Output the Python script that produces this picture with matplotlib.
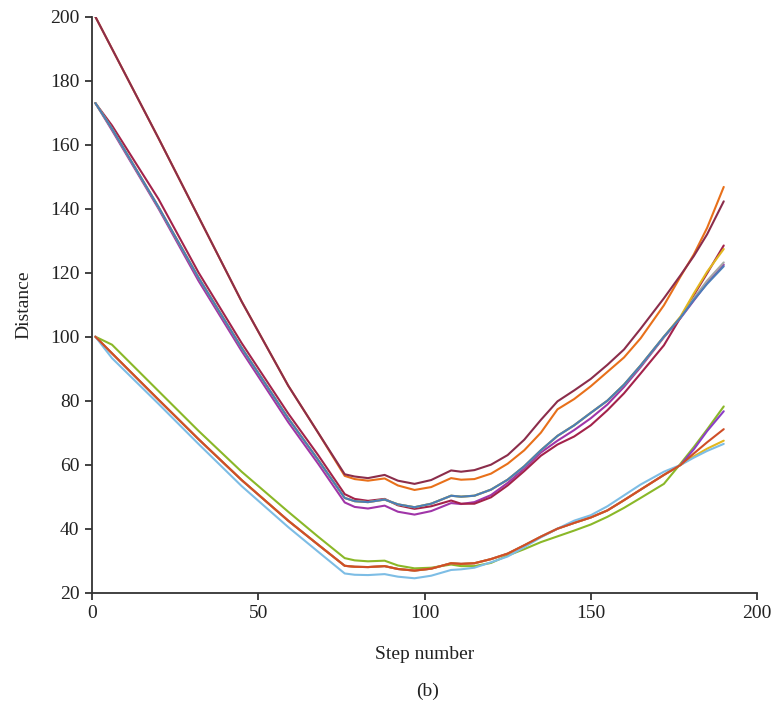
import matplotlib
matplotlib.use("Agg")
import matplotlib.pyplot as plt

# ---- data ----
steps = [1, 6, 20, 32, 45, 59, 68, 76, 79, 83, 88, 92, 97, 102, 108, 111, 115, 120, 125,
         130, 135, 140, 145, 150, 155, 160, 165, 172, 177, 181, 185, 190]

# group starting at 200
orange = [200, 190, 162, 137.5, 111, 84.7, 70, 56.5, 55.5, 55.0, 55.7, 53.5, 52.1, 53.0, 55.8, 55.3,
          55.5, 57.2, 60.3, 64.5, 70.0, 77.3, 80.5, 84.5, 89.0, 93.5, 99.5, 109.8, 118.8, 125.7, 134.0, 146.8]
maroon = [200, 190, 162, 137.5, 111, 84.7, 70, 57.0, 56.3, 55.8, 56.8, 55.0, 54.0, 55.2, 58.2, 57.8,
          58.3, 60.0, 63.0, 67.8, 74.0, 79.8, 83.2, 86.8, 91.2, 96.0, 102.5, 112.0, 119.2, 125.2, 132.0, 142.3]

# group starting at 173
crimson = [173, 166, 143, 120.1, 98, 76, 63, 50.8, 49.3, 48.7, 49.3, 47.3, 46.2, 47.0, 48.8, 47.8,
           47.8, 49.8, 53.5, 58.0, 62.8, 66.3, 68.8, 72.3, 77.0, 82.3, 88.5, 97.3, 106.0, 113.0, 119.8, 128.5]
magenta = [173, 164.5, 140, 117.5, 95.5, 73.3, 60.3, 48.2, 46.8, 46.3, 47.2, 45.3, 44.4, 45.5, 48.0, 47.7,
           48.3, 50.5, 54.3, 58.8, 63.8, 67.5, 70.8, 74.5, 78.8, 84.3, 90.5, 99.8, 105.8, 111.3, 116.8, 122.5]
gray_m = [173, 165, 140.5, 118.5, 96.5, 74.5, 61.5, 49.6, 48.6, 48.3, 49.1, 47.6, 46.7, 47.8, 50.3, 50.0,
          50.3, 52.2, 55.3, 59.5, 64.5, 69.0, 72.3, 76.2, 80.0, 85.0, 91.0, 100.0, 106.0, 112.0, 117.5, 123.2]
yellow_m = [173, 165, 140.5, 118.5, 96.5, 74.5, 61.5, 49.6, 48.6, 48.3, 49.1, 47.6, 46.7, 47.8, 50.3, 50.0,
            50.3, 52.2, 55.3, 59.5, 64.5, 69.0, 72.3, 76.2, 80.0, 85.0, 91.0, 100.0, 106.3, 113.5, 120.3, 127.4]
blue = [173, 165, 140.5, 118.5, 96.5, 74.5, 61.5, 49.6, 48.6, 48.3, 49.1, 47.6, 46.7, 47.8, 50.3, 50.0,
        50.3, 52.2, 55.3, 59.5, 64.5, 69.0, 72.3, 76.2, 80.0, 85.0, 91.0, 100.0, 106.0, 111.5, 116.5, 122.0]

# group starting at 100
green = [100, 97.5, 83, 70.6, 57.8, 45.3, 37.5, 30.8, 30.1, 29.8, 30.0, 28.5, 27.6, 27.8, 28.8, 28.3,
         28.3, 29.3, 31.6, 33.6, 35.8, 37.6, 39.4, 41.3, 43.7, 46.5, 49.6, 54.0, 60.3, 65.5, 71.0, 78.2]
purple_b = [100, 94.8, 80.3, 68.0, 55.2, 42.5, 35.0, 28.4, 28.1, 28.0, 28.3, 27.4, 26.9, 27.5, 29.2, 29.0,
            29.2, 30.5, 32.2, 34.8, 37.5, 40.0, 41.8, 43.5, 45.7, 48.9, 52.2, 56.8, 59.9, 64.8, 70.5, 76.7]
yellow_b = [100, 94.8, 80.3, 68.0, 55.2, 42.5, 35.0, 28.4, 28.1, 28.0, 28.3, 27.4, 26.9, 27.5, 29.2, 29.0,
            29.2, 30.5, 32.2, 34.8, 37.5, 40.0, 41.8, 43.5, 45.7, 48.9, 52.2, 56.8, 59.9, 62.6, 65.0, 67.5]
redorange = [100, 94.8, 80.3, 68.0, 55.2, 42.5, 35.0, 28.4, 28.1, 28.0, 28.3, 27.4, 26.9, 27.5, 29.2, 29.0,
             29.2, 30.5, 32.2, 34.8, 37.5, 40.0, 41.8, 43.5, 45.7, 48.9, 52.2, 56.8, 59.9, 63.5, 67.0, 71.1]
lightblue = [100, 93.3, 79, 66.5, 53.3, 40.5, 32.8, 26.0, 25.6, 25.5, 25.8, 25.0, 24.5, 25.3, 27.1, 27.3,
             27.8, 29.5, 31.3, 34.2, 37.3, 40.0, 42.5, 44.2, 47.0, 50.4, 53.8, 57.8, 59.9, 62.2, 64.3, 66.5]

x_ticks = [0, 50, 100, 150, 200]
y_ticks = [20, 40, 60, 80, 100, 120, 140, 160, 180, 200]

series = [
    (orange, "#E8701A"),
    (maroon, "#8B2D4B"),
    (magenta, "#A035A8"),
    (crimson, "#A3224A"),
    (gray_m, "#A5A5A5"),
    (yellow_m, "#E2B71F"),
    (blue, "#4A7EB8"),
    (green, "#8AB828"),
    (purple_b, "#8B3EC6"),
    (yellow_b, "#E2B71F"),
    (lightblue, "#7DBDE5"),
    (redorange, "#CF4E27"),
]

plt.rcParams['font.family'] = ['Liberation Serif', 'DejaVu Serif']

fig = plt.figure(figsize=(7.76, 7.07), dpi=100)
ax = fig.add_axes([0.1186, 0.1617, 0.8569, 0.8147])

for vals, col in series:
    ax.plot(steps, vals, color=col, lw=1.5, solid_joinstyle='round', solid_capstyle='round')

ax.set_xlim(0, 200)
ax.set_ylim(20, 200)
ax.set_xticks(x_ticks)
ax.set_yticks(y_ticks)
ax.spines['top'].set_visible(False)
ax.spines['right'].set_visible(False)
for s in ['left', 'bottom']:
    ax.spines[s].set_color('#333333')
    ax.spines[s].set_linewidth(1.3)
ax.tick_params(direction='out', length=5, width=1.3, color='#333333',
               labelsize=14, labelcolor='#222222', pad=4)
ax.set_xlabel("Step number", fontsize=14, color='#222222', labelpad=17)
ax.set_ylabel("Distance", fontsize=14, color='#222222', labelpad=13)
fig.text(0.5515, 1 - 691 / 707, "(b)", ha='center', va='center', fontsize=14, color='#222222')

fig.savefig("out.png", dpi=100)
